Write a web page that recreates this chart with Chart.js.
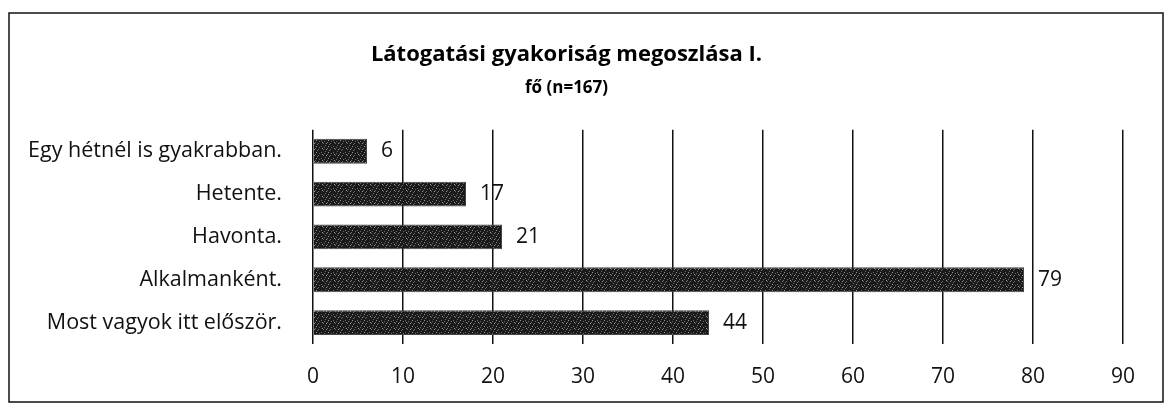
<!DOCTYPE html>
<html>
<head>
<meta charset="utf-8">
<script src="https://cdn.jsdelivr.net/npm/chart.js@4/dist/chart.umd.min.js"></script>
<style>
  html, body { margin: 0; padding: 0; background: #fff; }
  #wrap { width: 1170px; height: 406px; position: relative; }
</style>
</head>
<body>
<div id="wrap"><canvas id="c"></canvas></div>
<script>
const categories = [
  "Egy hétnél is gyakrabban.",
  "Hetente.",
  "Havonta.",
  "Alkalmanként.",
  "Most vagyok itt először."
];
const values = [6, 17, 21, 79, 44];
const xTicks = [0, 10, 20, 30, 40, 50, 60, 70, 80, 90];
const titleText = "Látogatási gyakoriság megoszlása I.";
const subtitleText = "fő (n=167)";

const FONT = "'Open Sans', Lato, sans-serif";

// speckled fill resembling the scanned bars (fixed, deterministic pattern)
function makePattern() {
  const c = document.createElement('canvas');
  c.width = 12; c.height = 6;
  const g = c.getContext('2d');
  g.fillStyle = '#1a1a1a';
  g.fillRect(0, 0, 12, 6);
  g.fillStyle = '#6a6a6a';
  [[1,1],[5,0],[9,2],[3,4],[7,3],[11,5],[0,3],[6,5]].forEach(p => g.fillRect(p[0], p[1], 1, 1));
  g.fillStyle = '#9a9a9a';
  [[4,2],[10,4],[2,5]].forEach(p => g.fillRect(p[0], p[1], 1, 1));
  return g.createPattern(c, 'repeat');
}

const valueLabels = {
  id: 'valueLabels',
  afterDatasetsDraw(chart) {
    const ctx = chart.ctx;
    const meta = chart.getDatasetMeta(0);
    ctx.save();
    ctx.font = "21px " + FONT;
    ctx.fillStyle = "#111";
    ctx.textAlign = "left";
    ctx.textBaseline = "middle";
    meta.data.forEach((bar, i) => {
      ctx.fillText(String(values[i]), bar.x + 14, bar.y);
    });
    ctx.restore();
  }
};

const frame = {
  id: 'frame',
  beforeDraw(chart) {
    const ctx = chart.ctx;
    ctx.save();
    ctx.fillStyle = "#fff";
    ctx.fillRect(0, 0, chart.width, chart.height);
    ctx.restore();
  },
  afterDraw(chart) {
    const ctx = chart.ctx;
    ctx.save();
    ctx.strokeStyle = "#111";
    ctx.lineWidth = 1.5;
    ctx.strokeRect(9, 13, 1154, 389);
    ctx.restore();
  }
};

new Chart(document.getElementById('c'), {
  type: 'bar',
  data: {
    labels: categories,
    datasets: [{
      data: values,
      backgroundColor: makePattern(),
      borderColor: "#444",
      borderWidth: 1,
      barPercentage: 0.58,
      categoryPercentage: 1.0
    }]
  },
  options: {
    indexAxis: 'y',
    responsive: true,
    maintainAspectRatio: false,
    animation: false,
    layout: { padding: { top: 42, left: 10, right: 47, bottom: 0 } },
    plugins: {
      legend: { display: false },
      tooltip: { enabled: false },
      title: {
        display: true,
        text: titleText,
        color: "#000",
        font: { family: FONT, size: 22, weight: 'bold' },
        padding: { top: 0, bottom: 10 }
      },
      subtitle: {
        display: true,
        text: subtitleText,
        color: "#000",
        font: { family: FONT, size: 17, weight: 'bold' },
        padding: { top: 0, bottom: 31 }
      }
    },
    scales: {
      x: {
        min: 0,
        max: 90,
        afterBuildTicks(axis) { axis.ticks = xTicks.map(v => ({ value: v })); },
        afterFit(axis) { axis.height = 62; },
        grid: { color: "#111", lineWidth: 1.5, drawTicks: false },
        border: { display: false },
        ticks: { color: "#111", font: { family: FONT, size: 21 }, padding: 20 }
      },
      y: {
        afterFit(axis) { axis.width = 303; },
        grid: { display: false },
        border: { display: false },
        ticks: { color: "#111", font: { family: FONT, size: 21.5 }, padding: 23 }
      }
    }
  },
  plugins: [valueLabels, frame]
});
</script>
</body>
</html>
